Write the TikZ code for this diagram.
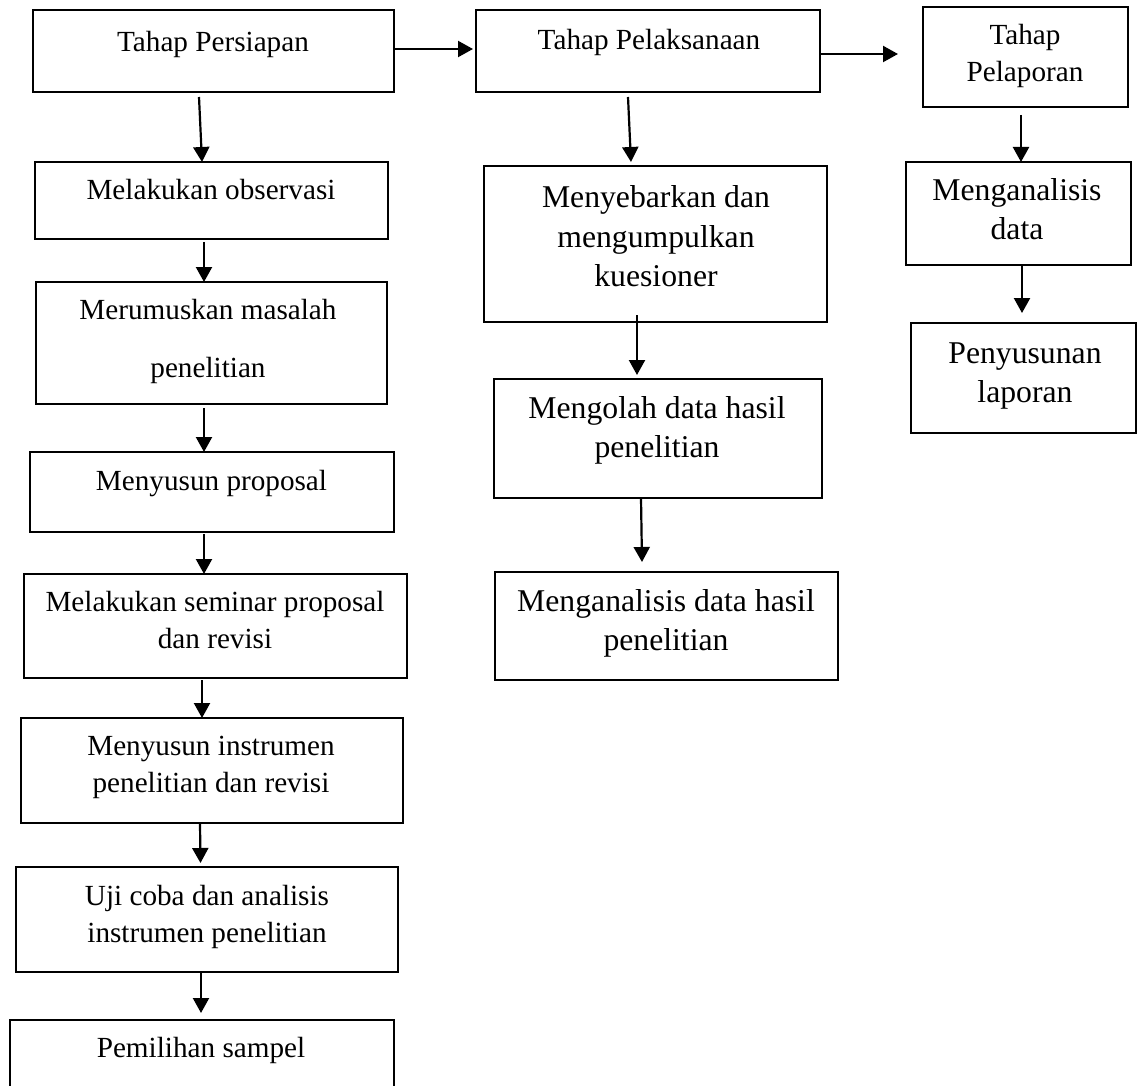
\documentclass[tikz,border=0pt]{standalone}
\usepackage{fontspec}
\setmainfont{Liberation Serif}
\usetikzlibrary{arrows.meta,calc}
\begin{document}
\begin{tikzpicture}[x=1pt,y=-1pt,
 box/.style={draw,line width=2.2pt,inner sep=0pt,outer sep=0pt},
 txa/.style={anchor=base,align=center,inner sep=0pt,font=\fontsize{29.2}{37}\selectfont},
 txb/.style={anchor=base,align=center,inner sep=0pt,font=\fontsize{31.7}{39}\selectfont},
 arr/.style={line width=2.2pt,-{Triangle[length=15pt,width=16pt]}}]
\useasboundingbox (0,0) rectangle (1138,1086);
% left column
\node[box,minimum width=361pt,minimum height=82pt] (pers) at (213.5,51) {};
\node[box,minimum width=353pt,minimum height=77pt] (obs) at (211.5,200.5) {};
\node[box,minimum width=351pt,minimum height=122pt] (mer) at (211.5,343) {};
\node[box,minimum width=364pt,minimum height=80pt] (prop) at (212,492) {};
\node[box,minimum width=383pt,minimum height=104pt] (sem) at (215.5,626) {};
\node[box,minimum width=382pt,minimum height=105pt] (ins) at (212,770.5) {};
\node[box,minimum width=382pt,minimum height=105pt] (uji) at (207,919.5) {};
\node[box,minimum width=384pt,minimum height=90pt] (pem) at (202,1065) {};
% middle column
\node[box,minimum width=344pt,minimum height=82pt] (pelak) at (648,51) {};
\node[box,minimum width=343pt,minimum height=156pt] (meny) at (655.5,244) {};
\node[box,minimum width=328pt,minimum height=119pt] (meng) at (658,438.5) {};
\node[box,minimum width=343pt,minimum height=108pt] (anal) at (666.5,626) {};
% right column
\node[box,minimum width=205pt,minimum height=100pt] (pelap) at (1025.5,57) {};
\node[box,minimum width=225pt,minimum height=103pt] (mdata) at (1018.5,213.5) {};
\node[box,minimum width=225pt,minimum height=110pt] (peny) at (1023.5,378) {};
% texts (anchor = baseline of the last line)
\node[txa] (pers-t) at (213,52) {Tahap Persiapan};
\node[txa] (obs-t) at (211,200) {Melakukan observasi};
\node[txa] (mer-t) at (208,377) {Merumuskan masalah\\[21pt]penelitian};
\node[txa] (prop-t) at (211.5,490) {Menyusun proposal};
\node[txa] (sem-t) at (215,648) {Melakukan seminar proposal\\dan revisi};
\node[txa] (ins-t) at (211,792) {Menyusun instrumen\\penelitian dan revisi};
\node[txa] (uji-t) at (207,942) {Uji coba dan analisis\\instrumen penelitian};
\node[txa] (pem-t) at (201,1057) {Pemilihan sampel};
\node[txa] (pelak-t) at (649,50) {Tahap Pelaksanaan};
\node[txb] (meny-t) at (656,286) {Menyebarkan dan\\mengumpulkan\\kuesioner};
\node[txb] (meng-t) at (657,457) {Mengolah data hasil\\penelitian};
\node[txb] (anal-t) at (666,650) {Menganalisis data hasil\\penelitian};
\node[txa] (pelap-t) at (1025,82) {Tahap\\Pelaporan};
\node[txb] (mdata-t) at (1017,240) {Menganalisis\\data};
\node[txb] (peny-t) at (1025,402) {Penyusunan\\laporan};
% connectors
\draw[arr] ($(pers.south)+(-14.5,5)$) -- ($(obs.north)+(-9.5,0)$);
\draw[arr] ($(obs.south)+(-7.5,3)$) -- ($(mer.north)+(-7.5,0)$);
\draw[arr] ($(mer.south)+(-7.5,4)$) -- ($(prop.north)+(-8,0)$);
\draw[arr] ($(prop.south)+(-8,2)$) -- ($(sem.north)+(-11.5,0)$);
\draw[arr] ($(sem.south)+(-13.5,2)$) -- ($(ins.north)+(-10,0)$);
\draw[arr] ($(ins.south)+(-12,0)$) -- ($(uji.north)+(-6.5,-4)$);
\draw[arr] ($(uji.south)+(-6,0)$) -- ($(pem.north)+(-1,-7)$);
\draw[arr] ($(pers.east)+(0,-2)$) -- ($(pelak.west)+(-3,-2)$);
\draw[arr] ($(pelak.east)+(0,3)$) -- ($(pelap.west)+(-25,-3)$);
\draw[arr] ($(pelak.south)+(-20,5)$) -- ($(meny.north)+(-24.5,-4)$);
\draw[arr] ($(meny.south)+(-18.5,-7)$) -- ($(meng.north)+(-21,-4)$);
\draw[arr] ($(meng.south)+(-17,0)$) -- ($(anal.north)+(-24.5,-10)$);
\draw[arr] ($(pelap.south)+(-4.5,8)$) -- ($(mdata.north)+(2.5,0)$);
\draw[arr] ($(mdata.south)+(3.5,0)$) -- ($(peny.north)+(-1.5,-10)$);
\end{tikzpicture}
\end{document}
